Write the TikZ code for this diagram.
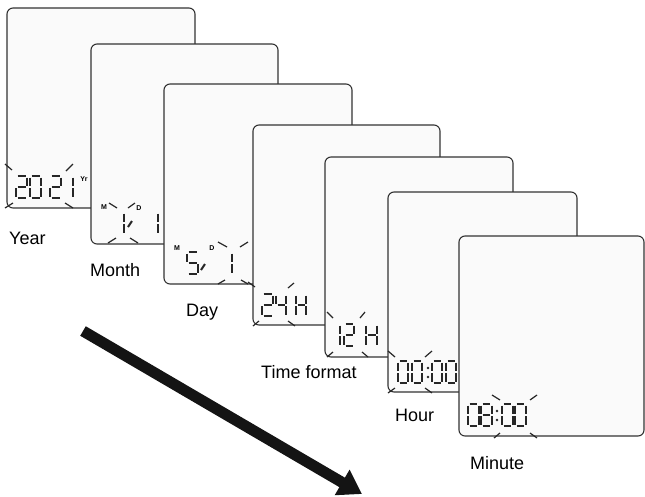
\documentclass[tikz,border=0pt]{standalone}
\usepackage{fontspec}
\setmainfont{Liberation Sans}
\usetikzlibrary{arrows.meta}
\tikzset{
  card/.style={draw=black!80, fill=black!2, line width=1.1pt, rounded corners=6pt},
  seg/.style={line width=2pt, draw=black!85},
  arm/.style={line width=1.2pt, draw=black!85},
  lab/.style={anchor=base west, inner sep=0pt, font=\fontsize{18}{20}\selectfont},
  tinylab/.style={inner sep=0pt, font=\fontsize{7}{8}\selectfont\bfseries},
  bigarrow/.style={line width=11pt, draw=black!92, -{Triangle[length=23pt,width=28pt]}},
}
\def\lcdsega{\draw[seg] (1.5,0)--(\W-1.5,0);}
\def\lcdsegb{\draw[seg] (\W,1.5)--(\W,10);}
\def\lcdsegc{\draw[seg] (\W,12)--(\W,20.5);}
\def\lcdsegd{\draw[seg] (1.5,22)--(\W-1.5,22);}
\def\lcdsege{\draw[seg] (0,12)--(0,20.5);}
\def\lcdsegf{\draw[seg] (0,1.5)--(0,10);}
\def\lcdsegg{\draw[seg] (1.5,11)--(\W-1.5,11);}
\newcommand\lcd[4]{%
  \begin{scope}[shift={(#1,#2)}]
  \def\W{#3}%
  \foreach \s in {#4}{\csname lcdseg\s\endcsname}
  \end{scope}}
\newcommand\arm[4]{\draw[arm] (#1,#2)--(#3,#4);}
\begin{document}
\begin{tikzpicture}[x=1pt,y=-1pt]
\useasboundingbox (0,0) rectangle (645,496);
% card 1: Year
\draw[card] (7,8) rectangle (195,208);
\lcd{16}{176}{11}{a,b,g,e,d}
\lcd{30}{176}{11}{a,b,c,d,e,f}
\lcd{50}{176}{11}{a,b,g,e,d}
\lcd{62}{176}{11}{b,c}
\node[tinylab] (yr) at (84,179) {Yr};
\arm{5}{164}{12}{170}\arm{73}{164}{66}{171}
\arm{5}{208}{13}{203}\arm{65}{203}{73}{208}
% card 2: Month
\draw[card] (91,44) rectangle (278,244);
\lcd{114}{212}{10}{b,c}
\draw[seg] (128,227)--(132,221);
\lcd{148}{212}{10}{b,c}
\node[tinylab] (m1) at (104,207) {M};
\node[tinylab] (d1) at (139,208) {D};
\arm{109}{203}{117}{208}\arm{135}{203}{128}{208}
\arm{108}{243}{116}{238}\arm{130}{238}{138}{243}
% card 3: Day
\draw[card] (164,84) rectangle (352,284);
\lcd{187}{252}{11}{a,f,g,c,d}
\draw[seg] (201,270)--(205,264);
\lcd{222}{252}{10}{b,c}
\node[tinylab] (m2) at (177,248) {M};
\node[tinylab] (d2) at (212,248) {D};
\arm{218}{242}{227}{247}\arm{248}{242}{240}{247}
\arm{218}{284}{225}{280}\arm{241}{280}{248}{284}
% card 4: 24H
\draw[card] (253,125) rectangle (440,325);
\lcd{262}{294}{11}{a,b,g,e,d}
\lcd{276}{294}{10}{f,g,b,c}
\lcd{296}{294}{10}{b,c,e,f,g}
\arm{248}{282}{255}{287}\arm{294}{283}{288}{288}
\arm{253}{326}{259}{321}\arm{288}{321}{295}{326}
% card 5: 12H
\draw[card] (325,157) rectangle (513,357);
\lcd{330}{324}{10}{b,c}
\lcd{344}{324}{10}{a,b,g,e,d}
\lcd{366}{324}{11}{b,c,e,f,g}
\arm{327}{312}{333}{318}\arm{365}{312}{360}{318}
\arm{327}{357}{333}{352}\arm{362}{352}{368}{357}
% card 6: Hour
\draw[card] (388,192) rectangle (577,392);
\lcd{398}{361}{10}{a,b,c,d,e,f}
\lcd{412}{361}{10}{a,b,c,d,e,f}
\fill[black!85] (428,368) circle (1.3) (428,377) circle (1.3);
\lcd{432}{361}{10}{a,b,c,d,e,f}
\lcd{446}{361}{10}{a,b,c,d,e,f}
\arm{388}{351}{395}{357}\arm{432}{351}{425}{357}
\arm{388}{393}{395}{388}\arm{425}{388}{432}{393}
% card 7: Minute
\draw[card] (459,236) rectangle (644,436);
\lcd{468}{404}{10.5}{a,b,c,d,e,f}
\lcd{481}{404}{10.5}{a,b,c,d,e,f,g}
\fill[black!85] (497,411) circle (1.3) (497,420) circle (1.3);
\lcd{502}{404}{10.5}{a,b,c,d,e,f}
\lcd{515}{404}{10.5}{a,b,c,d,e,f}
\arm{492}{395}{500}{400}\arm{537}{395}{530}{400}
\arm{494}{438}{500}{433}\arm{530}{433}{537}{438}
% labels
\node[lab] (lyear) at (9,244) {Year};
\node[lab] (lmonth) at (90,276) {Month};
\node[lab] (lday) at (186,316) {Day};
\node[lab] (ltime) at (261,378) {Time format};
\node[lab] (lhour) at (395,421) {Hour};
\node[lab] (lmin) at (470,469) {Minute};
% arrow
\coordinate (arrS) at (83,331);
\coordinate (arrE) at (362,494);
\draw[bigarrow] (arrS) -- (arrE);
\end{tikzpicture}
\end{document}
